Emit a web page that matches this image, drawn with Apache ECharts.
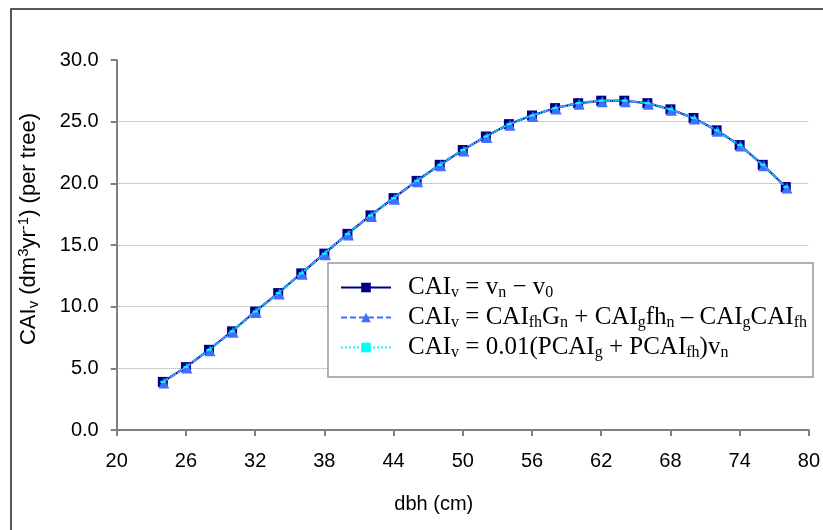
<!DOCTYPE html>
<html>
<head>
<meta charset="utf-8">
<script src="https://cdn.jsdelivr.net/npm/echarts@6/dist/echarts.min.js"></script>
<style>html,body{margin:0;padding:0;background:#fff}#c{width:823px;height:530px}</style>
</head>
<body>
<div id="c"></div>
<script>
const dbh = [24,26,28,30,32,34,36,38,40,42,44,46,48,50,52,54,56,58,60,62,64,66,68,70,72,74,76,78];
const caiDiff = [3.9,5.1,6.5,8.0,9.6,11.1,12.7,14.3,15.9,17.4,18.8,20.2,21.5,22.7,23.8,24.8,25.5,26.1,26.5,26.7,26.7,26.5,26.0,25.3,24.3,23.1,21.5,19.7];
const caiProduct = [3.9,5.1,6.5,8.0,9.6,11.1,12.7,14.3,15.9,17.4,18.8,20.2,21.5,22.7,23.8,24.8,25.5,26.1,26.5,26.7,26.7,26.5,26.0,25.3,24.3,23.1,21.5,19.7];
const caiPercent = [3.9,5.1,6.5,8.0,9.6,11.1,12.7,14.3,15.9,17.4,18.8,20.2,21.5,22.7,23.8,24.8,25.5,26.1,26.5,26.7,26.7,26.5,26.0,25.3,24.3,23.1,21.5,19.7];
const seriesNames = ['s1','s2','s3'];
const legendRich = {
  s1: '{g| }CAI{sub|v} = v{sub|n} − v{sub|0}',
  s2: '{g| }CAI{sub|v} = CAI{sub|fh}G{sub|n} + CAI{sub|g}fh{sub|n} – CAI{sub|g}CAI{sub|fh}',
  s3: '{g| }CAI{sub|v} = 0.01(PCAI{sub|g} + PCAI{sub|fh})v{sub|n}'
};
const pair = a => dbh.map((x,i)=>[x,a[i]]);
const chart = echarts.init(document.getElementById('c'));
chart.setOption({
  animation:false,
  backgroundColor:'#fff',
  graphic:[{type:'rect',shape:{x:11,y:9,width:900,height:600},style:{fill:'none',stroke:'#222',lineWidth:1.5},silent:true}],
  grid:{left:116.7,right:6.3,top:60,bottom:100},
  xAxis:{type:'value',min:20,max:80,interval:6,
    name:'dbh (cm)',nameLocation:'middle',nameGap:64,
    nameTextStyle:{fontFamily:'Liberation Sans',fontSize:20,color:'#000',padding:[0,58,0,0]},
    axisLine:{lineStyle:{color:'#808080',width:2}},
    axisTick:{length:6,lineStyle:{color:'#808080',width:2}},
    axisLabel:{margin:21,fontFamily:'Liberation Sans',fontSize:20,color:'#000'},
    splitLine:{show:false}},
  yAxis:{type:'value',min:0,max:30,interval:5,
    name:'CAI{sub|v} (dm{sup|3}yr{sup|-1}) (per tree)',nameLocation:'middle',nameRotate:90,nameGap:75,
    nameTextStyle:{fontFamily:'Liberation Sans',fontSize:22,color:'#000',padding:[0,0,0,32],
      rich:{sub:{fontFamily:'Liberation Sans',fontSize:15,padding:[10,0,0,0],color:'#000'},
            sup:{fontFamily:'Liberation Sans',fontSize:15,padding:[0,0,10,0],color:'#000'}}},
    axisLine:{show:true,lineStyle:{color:'#808080',width:2}},
    axisTick:{show:true,length:6,lineStyle:{color:'#808080',width:2}},
    axisLabel:{margin:18,fontFamily:'Liberation Sans',fontSize:20,color:'#000',formatter:v=>v.toFixed(1)},
    splitLine:{show:true,showMaxLine:false,showMinLine:false,lineStyle:{color:'#999',type:'dotted',width:1}}},
  legend:{orient:'vertical',left:328,top:263,width:488,itemWidth:50,itemHeight:12,itemGap:4,
    backgroundColor:'#fff',borderColor:'#999',borderWidth:1.5,padding:[12,6,16,12],
    data:seriesNames,
    formatter:n=>legendRich[n],
    textStyle:{fontFamily:'Liberation Serif',fontSize:25,color:'#000',
      rich:{g:{width:12},sub:{fontFamily:'Liberation Serif',fontSize:16,padding:[11,0,0,0],color:'#000'}}}},
  series:[
    {name:'s1',type:'line',data:pair(caiDiff),symbol:'rect',symbolSize:10,
      lineStyle:{color:'#000080',width:2},itemStyle:{color:'#000080'},z:2},
    {name:'s2',type:'line',data:pair(caiProduct),symbol:'triangle',symbolSize:11,symbolOffset:[1,1],
      lineStyle:{color:'#3f6fff',width:2.5,type:[6,3]},itemStyle:{color:'#3f6fff'},z:3},
    {name:'s3',type:'line',data:pair(caiPercent),symbol:'rect',symbolSize:[5,2],
      lineStyle:{color:'#00ffff',width:1.2,type:'dotted'},itemStyle:{color:'#00ffff'},z:4}
  ]
});
</script>
</body>
</html>
